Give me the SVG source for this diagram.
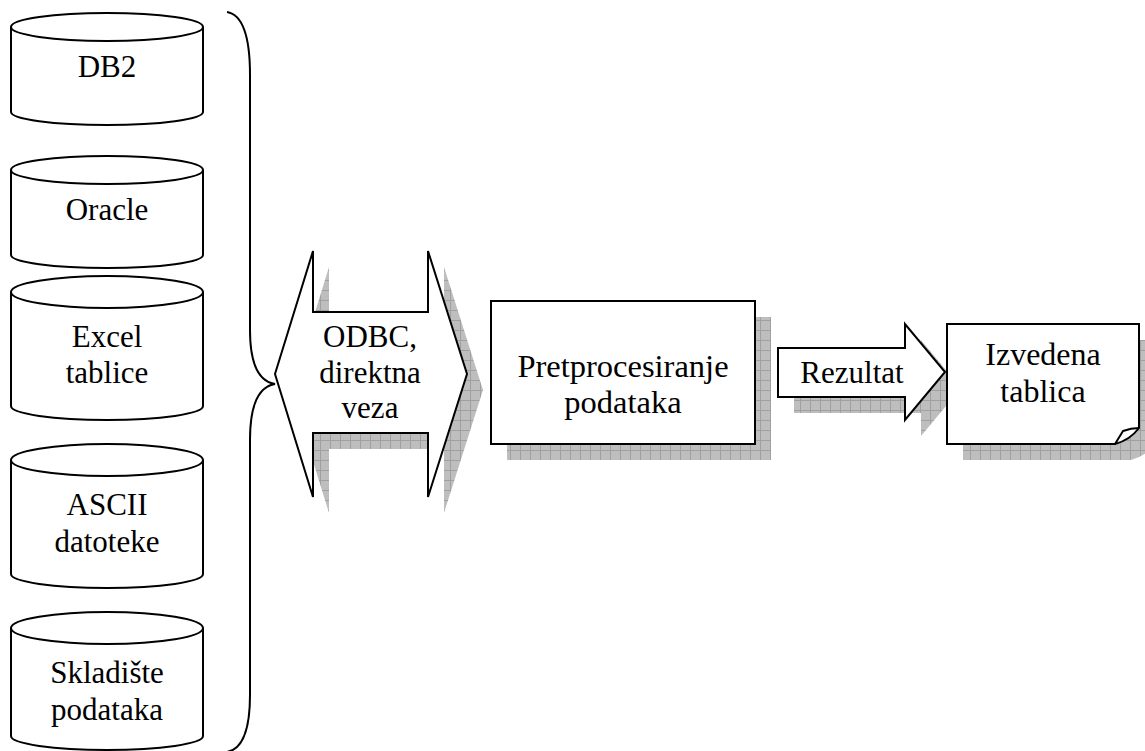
<svg xmlns="http://www.w3.org/2000/svg" width="1145" height="751" viewBox="0 0 1145 751">
<style>
.ln{fill:none;stroke:#000;stroke-width:2;stroke-linejoin:miter}
.sh{fill:#fff;stroke:#000;stroke-width:2;stroke-linejoin:miter}
.shadow{fill:url(#shade);stroke:none}
text{font-family:"Liberation Serif","Times New Roman",serif;font-size:31px;fill:#000;text-anchor:middle}
.big{font-size:32.5px}
.mid{font-size:32px}
</style>
<defs>
<pattern id="shade" width="10" height="10" patternUnits="userSpaceOnUse">
<rect width="10" height="10" fill="#bebebe"/>
<path d="M0,0.5H10M0.5,0V10" stroke="#a0a0a0" stroke-width="1"/>
</pattern>
</defs>
<g id="db2">
<path class="sh" d="M11,27V112A96,13 0 0 0 203,112V27"/>
<ellipse class="sh" cx="107" cy="27" rx="96" ry="14"/>
<text x="107" y="77">DB2</text>
</g>
<g id="oracle">
<path class="sh" d="M11,170V255A96,13 0 0 0 203,255V170"/>
<ellipse class="sh" cx="107" cy="170" rx="96" ry="14"/>
<text x="107" y="220">Oracle</text>
</g>
<g id="excel">
<path class="sh" d="M11,292V406A96,14 0 0 0 203,406V292"/>
<ellipse class="sh" cx="107" cy="292" rx="96" ry="16"/>
<text x="107" y="347">Excel</text>
<text x="107" y="383">tablice</text>
</g>
<g id="ascii">
<path class="sh" d="M11,460V574A96,14 0 0 0 203,574V460"/>
<ellipse class="sh" cx="107" cy="460" rx="96" ry="16"/>
<text x="107" y="515">ASCII</text>
<text x="107" y="552">datoteke</text>
</g>
<g id="skladiste">
<path class="sh" d="M11,628V736A96,14 0 0 0 203,736V628"/>
<ellipse class="sh" cx="107" cy="628" rx="96" ry="16"/>
<text x="107" y="683">Skladište</text>
<text x="107" y="720">podataka</text>
</g>
<g id="connectors">
<path id="brace" class="ln" d="M227,12Q250,16 250,75L250,330Q250,380 275,384Q250,388 250,440L250,695Q250,748 227,752"/>
</g>
<g id="odbc">
<polygon class="shadow" points="291,390 329,267 329,328 444,328 444,267 483,390 444,513 444,449 329,449 329,513"/>
<polygon class="sh" points="275,374 313,251 313,312 428,312 428,251 467,374 428,497 428,433 313,433 313,497"/>
<text x="370" y="347">ODBC,</text>
<text x="370" y="383">direktna</text>
<text x="370" y="418">veza</text>
</g>
<g id="pretprocesiranje">
<rect class="shadow" x="507" y="317" width="264" height="143"/>
<rect class="sh" x="491" y="301" width="264" height="143"/>
<text class="big" x="623" y="377">Pretprocesiranje</text>
<text class="big" x="623" y="413">podataka</text>
</g>
<g id="rezultat">
<polygon class="shadow" points="794,364 921,364 921,340 961,388 921,436 921,413 794,413"/>
<polygon class="sh" points="778,348 905,348 905,324 945,372 905,420 905,397 778,397"/>
<text x="852" y="383">Rezultat</text>
</g>
<g id="izvedena">
<path class="shadow" d="M963,340H1155V444Q1146,456 1131,460H963Z"/>
<path class="sh" d="M947,324H1139V428Q1130,440 1115,444H947Z"/>
<path class="ln" d="M1115,444L1123,431Q1131,428 1139,428"/>
<text class="mid" x="1043" y="365">Izvedena</text>
<text class="mid" x="1043" y="402">tablica</text>
</g>
</svg>
